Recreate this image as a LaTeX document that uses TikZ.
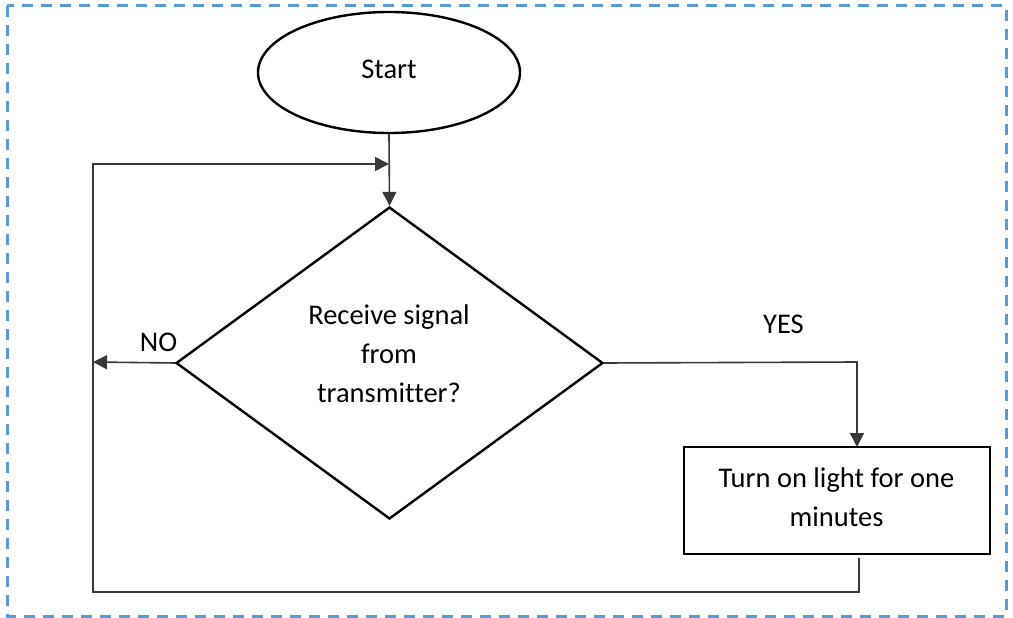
\documentclass[tikz,border=0pt]{standalone}
\usepackage{fontspec}
\setmainfont{Carlito}[Ligatures=NoCommon]
\usetikzlibrary{shapes.geometric,arrows.meta}
\definecolor{frameblue}{HTML}{5B9BD5}
\definecolor{linkgray}{HTML}{383838}
\tikzset{
  shapeline/.style={draw=black, line width=2.4pt},
  link/.style={draw=linkgray, line width=1.6pt},
  tip/.style={-{Triangle[length=14pt,width=14pt]}},
  lbl/.style={inner sep=0pt, font=\fontsize{28.5}{39}\selectfont},
}
\begin{document}
\begin{tikzpicture}[x=1pt,y=-1pt]
  \useasboundingbox (0,0) rectangle (1013,618);
  % outer dashed frame
  \draw[frameblue, line width=3pt, dash pattern=on 11pt off 8pt] (7,6) rectangle (1006,616);

  % shapes
  \node[shapeline, ellipse, minimum width=262pt, minimum height=121pt, inner sep=0pt] (start) at (389,72.5) {};
  \node[lbl, anchor=base] (starttxt) at (389,79) {Start};

  \node[shapeline, diamond, minimum width=427pt, minimum height=312pt, inner sep=0pt] (dec) at (389.5,363) {};
  \node[lbl, anchor=base] (dectxt) at (389,324)
    {\begin{tabular}[t]{@{}c@{}}Receive signal\\from\\transmitter?\end{tabular}};

  \node[shapeline, rectangle, minimum width=306pt, minimum height=107pt, inner sep=0pt] (act) at (837,500.5) {};
  \node[lbl, anchor=base] (acttxt) at (836.5,487)
    {\begin{tabular}[t]{@{}c@{}}Turn on light for one\\minutes\end{tabular}};

  % branch labels
  \node[lbl, anchor=base] (nolbl) at (158.5,351) {NO};
  \node[lbl, anchor=base] (yeslbl) at (783.5,333) {YES};

  % connector points
  \coordinate (merge) at (389,164);
  \coordinate (noend) at (93,362);
  \coordinate (yesturn) at (857,362);
  \coordinate (yesin) at (857,447);
  \coordinate (backstart) at (859,558);
  \coordinate (backturn) at (859,592);
  \coordinate (backleft) at (93,592);
  \coordinate (backtop) at (93,164);

  % connectors
  \draw[link, tip] (start.south) -- (dec.north);
  \draw[link, tip] (dec.west) -- (noend);
  \draw[link, tip] (dec.east) -- (yesturn) -- (yesin);
  \draw[link, tip] (backstart) -- (backturn) -- (backleft) -- (backtop) -- (merge);
\end{tikzpicture}
\end{document}
